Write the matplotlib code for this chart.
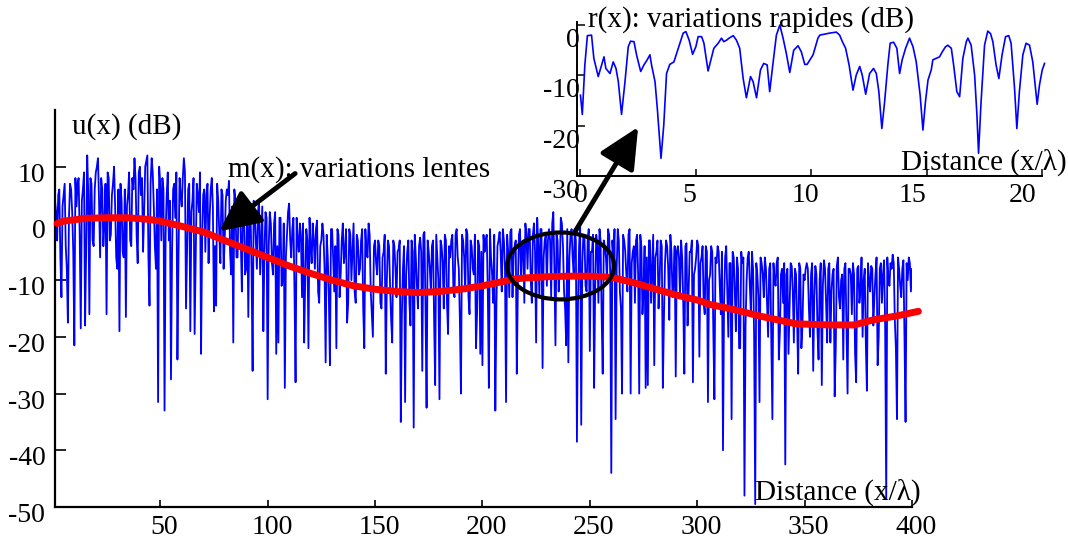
import numpy as np
import matplotlib
matplotlib.use("Agg")
import matplotlib.pyplot as plt
import matplotlib.transforms as mtransforms
from matplotlib.patches import Ellipse

plt.rcParams['font.family'] = ['Liberation Serif', 'DejaVu Serif']
plt.rcParams['axes.unicode_minus'] = False

# ---- main signal u(x) in dB, samples at whole distance units (x = 1..400)
u_x = list(range(1, 401))
u_db = [
    4, -3, 6, -13, 5, -4, -17.5, 7, 2, -21.5,
    3, 8, -18.5, 6, -18, 12, -16, 7, -4, 9,
    11.5, -6, 6, 0, -16, 8, -2, 7, 3, -8,
    -19, 4, -6, -16.5, 5, -3, 8, 11.5, -2, 9,
    5, -5, 10, 12, -14.5, 11.5, 3, -8, -31.5, 7,
    8, -33, 5, -3, -27.5, 6, 1, -24, 8, 3,
    11.5, -15, 6, -19, 4, -19.5, 7, 2, -23, 5,
    -5, 7, 1, 8, -15.5, -14.5, 4, -7, 5, -3,
    6, 7.5, -9, -21, 4, -6, 5, -12, 3, -8,
    -16.5, 3, -26, 2, -8, 4, -3, -19, 2, -31,
    2, -7, 0, -23, -21, 1, -10, -29, -2, 3.5,
    -6, 1, -28, -3, 0, -13, -21, -1, -22, -4,
    0, -8, 0.5, -14, -3, -2, -24.5, -6, -25, -1,
    -12, -22, -2, -9, 0, -5, -17.5, -1, -10, 0,
    -14, -3, -8, -1, -22, -5, 0, -12, -20, -3,
    -9, -4, -15, -5, -26.5, -3, -11, -21, -4, -13,
    -4.5, -35, -8, -31.5, -5, -14, -3, -36, -6, -15,
    -2.5, -26, -1.5, -32.5, -5, -12, -3, -28.5, -6, -31,
    -4, -15, -3, -19.5, -6, -2, -13, -1, -8, -30,
    -3, -12, -2, -16, -4, -9, -22, -3, -23, -25,
    -5, -2, -29, -6, -14, -33, -4, -1.5, -12, -3,
    -31.5, -5, -1.5, -13, -4, -26.5, -2, -10, -3, 0,
    -8, -1, -14, 0, -21, -4, -1, -25.5, -3, -11,
    -1, -13, 2, -21.5, -3, -8, 0, -12, -21.5, -24.5,
    -2, -6, -1, -38.5, -4, -35.5, -2, -11, -3, -22.5,
    -5, -29, -2, -14, -3, -26.5, -4, -10, -2, -44,
    -6, -34.5, -1, -12, -30, -3, -9, -2, -30, -5,
    -14, -2, -30, -4, -12, -29, -28.5, -3, -8, -25,
    -5, -15, -3, -29, -7, -4, -17, -5, -10, -27,
    -4, -13, -6, -26.5, -3.5, -12, -5, -28, -8, -3,
    -23.5, -6, -14, -4, -31.5, -9, -5, -31, -7, -5,
    -16, -40, -6, -12, -7, -34.5, -6, -19, -8, -22,
    -7, -48, -10, -5, -16, -8, -49.5, -9, -31.5, -7,
    -13, -8, -20, -7, -34.5, -10, -7, -24, -9, -14,
    -42.5, -8, -15, -7.5, -21, -9, -26.5, -8, -18, -10,
    -7, -15, -9, -26, -7.5, -19, -10, -28.5, -6.5, -14,
    -8, -21, -9, -30.5, -7.5, -13, -10, -24, -7, -30,
    -8, -16, -9, -28, -7.5, -12, -20, -8, -29.5, -10,
    -7.5, -18, -9, -25, -8, -14, -6.5, -48.5, -10, -7,
    -5.5, -17, -34.5, -8, -13, -6.5, -35, -10, -7, -8,
]
# ---- samples at half units (x = 1.5..399.5)
uh_x = [k + 0.5 for k in range(1, 400)]
uh_db = [
    2, 5, -6, 3, 7, -8, 1, 6, -5, 8,
    7, -2, 4, 9, -5, 5, 8, -3, 6, 10,
    4, 8, -4, 7, 9, -3, 5, 10, -6, 6,
    7, -5, 6, 3, 9, -4, 6, 8, -7, 10,
    8, 2, 11, -6, 7, 9, -4, 6, 10, -3,
    6, -2, 9, 4, -5, 7, 9, -6, 5, 8,
    9, -4, 7, 2, 8, -6, 5, 9, -3, 6,
    5, -7, 6, 3, -4, 7, -2, 6, -8, 4,
    5, -5, 3, 6, -6, 4, -3, 5, -9, 2,
    1, -8, 4, -3, 2, -9, 3, -5, 1, -4,
    0, -9, 2, -4, 1, -11, 0, -6, 2, -3,
    -1, -12, 1, -5, -2, 0, -10, -3, 1, -7,
    -3, -1, -12, -4, 0, -8, -2, -13, -1, -6,
    -4, -1, -13, -3, -7, -1, -14, -2, -5, -12,
    -2, -9, -3, -15, -1, -6, -2, -16, -4, -7,
    -3, -14, -6, -2, -10, -4, -17, -3, -8, -5,
    -3, -16, -4, -9, -3, -18, -5, -2, -11, -4,
    -5, -2, -15, -3, -8, -4, -17, -2, -10, -3,
    -7, -2, -14, -4, -3, -12, -2, -6, -17, -2,
    -6, -1, -13, -3, -8, -2, -16, -4, -5, -2,
    -3, -12, -1, -9, -2, -15, -3, -5, -1, -8,
    -2, -13, -1, -6, -3, -11, -1, -4, -14, -2,
    -1, -10, -2, -5, 1, -13, -1, -6, -2, -3,
    -3, 0, -8, -2, -12, 1, -4, -15, -1, -6,
    -1, -9, -3, -14, 0, -7, -2, -12, -1, -5,
    -2, -11, -4, -1, -16, -3, -6, -1, -9, -3,
    -1, -8, -3, -15, -2, -5, -12, -1, -7, -4,
    -3, -9, -2, -16, -4, -6, -3, -14, -2, -6,
    -3, -10, -4, -17, -3, -8, -2, -13, -4, -5,
    -6, -3, -14, -4, -18, -5, -3, -9, -6, -4,
    -7, -4, -16, -5, -10, -4, -19, -6, -4, -11,
    -5, -14, -4, -20, -7, -5, -12, -6, -22, -5,
    -6, -18, -6, -11, -5, -20, -7, -13, -6, -9,
    -6, -14, -8, -21, -7, -11, -6, -19, -8, -7,
    -9, -23, -7, -12, -8, -17, -7, -22, -9, -8,
    -8, -20, -7, -13, -9, -24, -7, -11, -8, -21,
    -7, -12, -8, -22, -6, -15, -9, -8, -19, -8,
    -9, -7, -23, -8, -14, -6, -10, -21, -7, -12,
    -8, -13, -6, -20, -7, -9, -18, -6, -11, -8,
    -7, -22, -6, -11, -8, -20, -7, -6, -12,
]

# ---- slow variations m(x) (dB)
m_x = [2, 5, 15, 25, 35, 45, 50, 60, 70, 80, 90, 100, 110, 120, 130, 140,
       150, 160, 170, 180, 190, 200, 210, 215, 220, 230, 240, 250, 260,
       270, 280, 290, 300, 306, 315, 330, 346, 362, 373, 382, 393, 403]
m_db = [0.0, 0.4, 0.9, 1.0, 1.0, 0.7, 0.4, -0.5, -1.5, -3.0, -4.5, -6.0,
        -7.5, -8.8, -10.0, -11.0, -11.6, -12.0, -12.2, -12.0, -11.6, -11.0,
        -10.2, -9.8, -9.6, -9.4, -9.3, -9.3, -9.5, -10.4, -11.5, -12.6,
        -13.5, -14.3, -15.0, -16.4, -17.7, -17.9, -17.9, -17.0, -16.3, -15.5]

# ---- fast variations r(x) (dB), inset
r_x = [0.00, 0.08, 0.19, 0.30, 0.48, 0.58, 0.77, 0.92, 1.02, 1.10, 1.28, 1.42,
       1.54, 1.64, 1.78, 1.93, 2.07, 2.17, 2.32, 2.43, 2.61, 2.75, 2.89, 3.01,
       3.08, 3.23, 3.33, 3.49, 3.61, 3.73, 3.87, 4.05, 4.24, 4.45, 4.57, 4.71,
       4.86, 5.00, 5.10, 5.25, 5.35, 5.53, 5.78, 5.97, 6.11, 6.21, 6.33, 6.44,
       6.62, 6.76, 6.90, 7.05, 7.19, 7.37, 7.48, 7.63, 7.80, 7.94, 8.09, 8.20,
       8.35, 8.49, 8.64, 8.78, 8.92, 9.07, 9.24, 9.43, 9.57, 9.72, 9.82,
       10.08, 10.29, 10.37, 10.58, 10.80, 11.09, 11.23, 11.35, 11.49, 11.64,
       11.81, 11.95, 12.10, 12.21, 12.36, 12.53, 12.70, 12.82, 12.93, 13.06,
       13.18, 13.32, 13.42, 13.57, 13.71, 13.83, 13.94, 14.09, 14.26, 14.41,
       14.55, 14.72, 14.84, 14.95, 15.06, 15.20, 15.27, 15.42, 15.56, 15.68,
       15.82, 15.92, 16.07, 16.17, 16.31, 16.43, 16.57, 16.72, 16.79, 16.93,
       17.08, 17.18, 17.25, 17.36, 17.51, 17.65, 17.77, 17.87, 18.01, 18.13,
       18.27, 18.42, 18.56, 18.66, 18.81, 18.91, 19.02, 19.17, 19.31, 19.46,
       19.60, 19.75, 19.79, 19.89, 20.01, 20.11]
r_db = [-14.0, -17.8, -8.0, -2.2, -2.1, -6.7, -10.3, -8.0, -6.4, -8.7, -9.7, -7.4,
        -8.7, -11.3, -17.8, -11.3, -4.4, -3.3, -3.4, -6.0, -9.3, -8.0, -7.0, -6.0,
        -8.0, -11.3, -16.6, -26.5, -19.9, -9.7, -7.9, -7.4, -4.7, -1.7, -1.4, -3.1,
        -5.9, -4.4, -2.4, -2.4, -3.7, -9.2, -4.7, -3.7, -2.7, -3.4, -3.1, -2.7,
        -2.2, -3.1, -4.7, -10.7, -14.5, -10.3, -11.3, -14.5, -9.0, -7.7, -8.0, -13.3,
        -7.4, -2.1, -0.1, -2.7, -5.7, -9.5, -5.1, -4.2, -5.4, -7.9, -7.9,
        -6.0, -2.7, -2.1, -1.9, -1.7, -1.5, -2.1, -3.4, -4.7, -8.0,
        -13.0, -10.0, -8.3, -10.0, -13.8, -9.7, -8.7, -9.7, -13.3, -20.6,
        -15.3, -8.0, -3.7, -3.5, -4.7, -9.7, -7.0, -4.7, -2.7, -4.4,
        -7.4, -14.0, -20.9, -15.3, -11.0, -9.0, -7.0, -6.7, -6.4, -5.4,
        -4.4, -4.1, -4.7, -8.0, -13.3, -14.3, -6.7, -3.4, -2.7, -4.1,
        -10.0, -17.9, -25.5, -15.3, -4.1, -1.3, -1.8, -3.4, -8.0, -10.7,
        -6.0, -2.4, -2.2, -3.7, -12.6, -20.6, -13.3, -6.0, -3.7, -4.1,
        -7.4, -14.0, -15.8, -12.0, -9.0, -7.7]

main_xticks = [50, 100, 150, 200, 250, 300, 350, 400]
main_yticks = [10, 0, -10, -20, -30, -40, -50]
inset_xticks = [0, 5, 10, 15, 20]
inset_yticks = [0, -10, -20, -30]

# merge whole- and half-unit samples in distance order
pairs = sorted(list(zip(u_x, u_db)) + list(zip(uh_x, uh_db)))
all_x = [p[0] for p in pairs]
all_db = [p[1] for p in pairs]

W, H = 1068, 542
fig = plt.figure(figsize=(W / 100, H / 100), dpi=100)

# ---------------- main axes
ax = fig.add_axes([55 / W, (H - 507) / H, (912 - 55) / W, (507 - 110) / H])
ax.set_facecolor('none')
ax.set_xlim(1, 400)
ax.set_ylim(-50, 20)
ax.plot(all_x, all_db, color='#0000ff', lw=1.3, zorder=2)
ax.plot(m_x, m_db, color='#ff0000', lw=5, zorder=3, clip_on=False,
        solid_capstyle='round')
for s in ['top', 'right']:
    ax.spines[s].set_visible(False)
for s in ['left', 'bottom']:
    ax.spines[s].set_linewidth(1.6)
    ax.spines[s].set_color('black')
ax.set_xticks(main_xticks)
ax.set_yticks(main_yticks)
ax.tick_params(axis='x', direction='in', length=5, width=1.2, labelsize=20, pad=6)
ax.tick_params(axis='y', direction='in', length=8, width=1.2, labelsize=20, pad=7)
offx = mtransforms.ScaledTranslation(3 / 72, 0, fig.dpi_scale_trans)
for lab in ax.get_xticklabels():
    lab.set_transform(lab.get_transform() + offx)
offy = mtransforms.ScaledTranslation(0, -4 / 72, fig.dpi_scale_trans)
for lab in ax.get_yticklabels():
    lab.set_transform(lab.get_transform() + offy)

ax.text(9, 17.1, 'u(x) (dB)', fontsize=21, ha='left', va='center')
ax.text(81.7, 9.5, 'm(x): variations lentes', fontsize=21, ha='left', va='center')
ax.text(403.8, -47.5, 'Distance (x/λ)', fontsize=21, ha='right', va='center',
        zorder=6, clip_on=False)

ell = Ellipse((236.4, -7.5), 49.8, 11.8, fill=False, edgecolor='black',
              lw=3.0, zorder=5)
ax.add_patch(ell)

arrow_style = '-|>,head_length=1.25,head_width=0.6'
ax.annotate('', xy=(77.5, -1.4), xytext=(112.8, 8.8),
            arrowprops=dict(arrowstyle=arrow_style, mutation_scale=20, lw=3.5,
                            color='black', shrinkA=0, shrinkB=0),
            zorder=6, annotation_clip=False)
ax.annotate('', xy=(272.5, 17.0), xytext=(243.2, -1.4),
            arrowprops=dict(arrowstyle=arrow_style, mutation_scale=20, lw=3.5,
                            color='black', shrinkA=0, shrinkB=0),
            zorder=6, annotation_clip=False)

# ---------------- inset axes
ax_in = fig.add_axes([577 / W, (H - 176) / H, (1042 - 577) / W, (176 - 22) / H])
ax_in.set_facecolor('none')
ax_in.set_xlim(-0.15, 20)
ax_in.set_ylim(-30, 0.5)
ax_in.plot(r_x, r_db, color='#0000ff', lw=1.2, clip_on=False)
for s in ['top', 'right']:
    ax_in.spines[s].set_visible(False)
for s in ['left', 'bottom']:
    ax_in.spines[s].set_linewidth(1.4)
    ax_in.spines[s].set_color('black')
ax_in.set_xticks(inset_xticks)
ax_in.set_yticks(inset_yticks)
ax_in.tick_params(axis='x', direction='in', length=5, width=1.1, labelsize=20, pad=5)
ax_in.tick_params(axis='y', direction='in', length=6, width=1.1, labelsize=20, pad=1)
offiy = mtransforms.ScaledTranslation(3 / 72, -9 / 72, fig.dpi_scale_trans)
for lab in ax_in.get_yticklabels():
    lab.set_transform(lab.get_transform() + offiy)
for lab, dx in zip(ax_in.get_xticklabels(), [0, -5, -4, -10, -14]):
    lab.set_transform(lab.get_transform() +
                      mtransforms.ScaledTranslation(dx / 72, 0, fig.dpi_scale_trans))

ax_in.text(0.32, 0.9, 'r(x): variations rapides (dB)', fontsize=21,
           ha='left', va='center', clip_on=False)
ax_in.text(13.9, -27.2, 'Distance (x/λ)', fontsize=21, ha='left', va='center',
           clip_on=False)

fig.savefig('out.png', dpi=100)
